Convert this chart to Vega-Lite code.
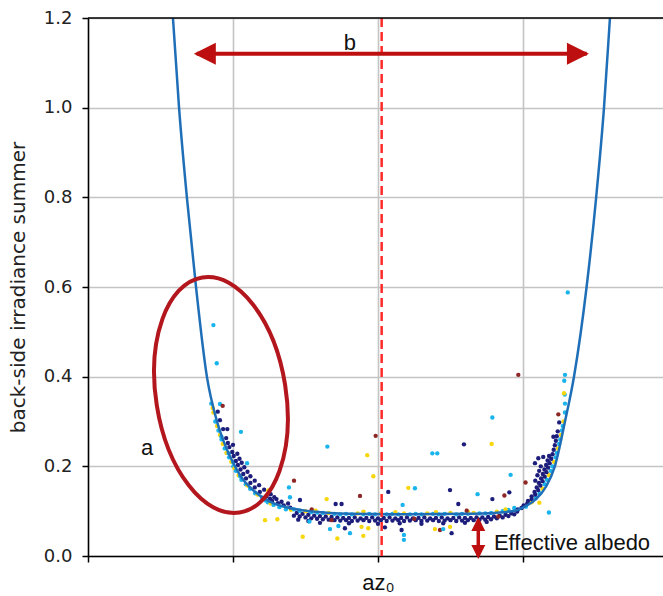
{
"$schema":"https://vega.github.io/schema/vega-lite/v6.json",
"width":575,"height":538,
"autosize":{"type":"none"},
"padding":{"left":88,"top":18,"right":0,"bottom":40},
"background":"white",
"config":{"view":{"stroke":null}},
"datasets":{
"curve":[{"x":-1.445,"y":1.36},{"x":-1.414,"y":1.2},{"x":-1.372,"y":1.0},{"x":-1.318,"y":0.8},{"x":-1.255,"y":0.6},{"x":-1.18,"y":0.4},{"x":-1.11,"y":0.3},{"x":-1.045,"y":0.24},{"x":-0.986,"y":0.2},{"x":-0.93,"y":0.17},{"x":-0.862,"y":0.147},{"x":-0.75,"y":0.122},{"x":-0.607,"y":0.107},{"x":-0.45,"y":0.099},{"x":-0.193,"y":0.094},{"x":0.2,"y":0.093},{"x":0.6,"y":0.094},{"x":0.8,"y":0.096},{"x":0.945,"y":0.101},{"x":1.0,"y":0.108},{"x":1.083,"y":0.125},{"x":1.16,"y":0.155},{"x":1.22,"y":0.2},{"x":1.29,"y":0.3},{"x":1.352,"y":0.4},{"x":1.439,"y":0.6},{"x":1.505,"y":0.8},{"x":1.559,"y":1.0},{"x":1.6,"y":1.2},{"x":1.63,"y":1.35}],
"pts":[
{"x":-1.15,"y":0.34,"c":"C"},{"x":-1.14,"y":0.33,"c":"Y"},{"x":-1.135,"y":0.32,"c":"Y"},{"x":-1.105,"y":0.322,"c":"N"},{"x":-1.122,"y":0.30,"c":"C"},{"x":-1.09,"y":0.303,"c":"N"},{"x":-1.11,"y":0.29,"c":"Y"},{"x":-1.1,"y":0.28,"c":"C"},{"x":-1.068,"y":0.283,"c":"N"},{"x":-1.09,"y":0.27,"c":"Y"},{"x":-1.08,"y":0.266,"c":"C"},{"x":-1.079,"y":0.26,"c":"C"},{"x":-1.047,"y":0.263,"c":"N"},{"x":-1.07,"y":0.25,"c":"Y"},{"x":-1.035,"y":0.252,"c":"N"},{"x":-1.057,"y":0.24,"c":"C"},{"x":-1.025,"y":0.243,"c":"N"},{"x":-1.0,"y":0.248,"c":"N"},{"x":-1.045,"y":0.23,"c":"Y"},{"x":-1.03,"y":0.229,"c":"C"},{"x":-1.005,"y":0.232,"c":"N"},{"x":-1.027,"y":0.22,"c":"C"},{"x":-0.995,"y":0.223,"c":"N"},{"x":-0.97,"y":0.228,"c":"N"},{"x":-1.012,"y":0.21,"c":"Y"},{"x":-0.998,"y":0.209,"c":"C"},{"x":-0.98,"y":0.212,"c":"N"},{"x":-0.955,"y":0.217,"c":"N"},{"x":-0.998,"y":0.20,"c":"C"},{"x":-0.99,"y":0.196,"c":"Y"},{"x":-0.966,"y":0.203,"c":"N"},{"x":-0.94,"y":0.208,"c":"N"},{"x":-0.98,"y":0.19,"c":"C"},{"x":-0.948,"y":0.193,"c":"N"},{"x":-0.922,"y":0.198,"c":"N"},{"x":-0.961,"y":0.18,"c":"Y"},{"x":-0.95,"y":0.178,"c":"C"},{"x":-0.929,"y":0.183,"c":"N"},{"x":-0.9,"y":0.188,"c":"N"},{"x":-0.942,"y":0.17,"c":"C"},{"x":-0.91,"y":0.173,"c":"N"},{"x":-0.88,"y":0.178,"c":"N"},{"x":-0.912,"y":0.16,"c":"C"},{"x":-0.9,"y":0.157,"c":"Y"},{"x":-0.88,"y":0.163,"c":"N"},{"x":-0.85,"y":0.168,"c":"N"},{"x":-0.882,"y":0.15,"c":"C"},{"x":-0.85,"y":0.153,"c":"N"},{"x":-0.82,"y":0.158,"c":"N"},{"x":-0.847,"y":0.14,"c":"C"},{"x":-0.83,"y":0.137,"c":"Y"},{"x":-0.815,"y":0.143,"c":"N"},{"x":-0.785,"y":0.148,"c":"N"},{"x":-0.8,"y":0.13,"c":"C"},{"x":-0.77,"y":0.133,"c":"N"},{"x":-0.74,"y":0.138,"c":"N"},{"x":-0.775,"y":0.124,"c":"C"},{"x":-0.745,"y":0.128,"c":"N"},{"x":-0.715,"y":0.131,"c":"N"},{"x":-0.76,"y":0.12,"c":"C"},{"x":-0.74,"y":0.117,"c":"Y"},{"x":-0.73,"y":0.123,"c":"N"},{"x":-0.7,"y":0.127,"c":"N"},{"x":-0.72,"y":0.114,"c":"C"},{"x":-0.69,"y":0.118,"c":"N"},{"x":-0.665,"y":0.121,"c":"N"},{"x":-0.68,"y":0.109,"c":"C"},{"x":-0.65,"y":0.113,"c":"N"},{"x":-0.62,"y":0.117,"c":"N"},{"x":-0.635,"y":0.104,"c":"C"},{"x":-0.6,"y":0.103,"c":"Y"},{"x":-0.605,"y":0.108,"c":"N"},
{"x":-0.58,"y":0.090,"c":"N"},{"x":-0.56,"y":0.096,"c":"N"},{"x":-0.58,"y":0.104,"c":"C"},
{"x":-0.54,"y":0.088,"c":"N"},{"x":-0.52,"y":0.094,"c":"N"},{"x":-0.54,"y":0.101,"c":"C"},
{"x":-0.50,"y":0.086,"c":"N"},{"x":-0.48,"y":0.092,"c":"N"},{"x":-0.50,"y":0.100,"c":"Y"},
{"x":-0.46,"y":0.084,"c":"N"},{"x":-0.44,"y":0.090,"c":"N"},{"x":-0.46,"y":0.098,"c":"C"},
{"x":-0.42,"y":0.083,"c":"N"},{"x":-0.40,"y":0.089,"c":"N"},{"x":-0.42,"y":0.097,"c":"C"},
{"x":-0.38,"y":0.082,"c":"N"},{"x":-0.36,"y":0.088,"c":"N"},{"x":-0.38,"y":0.096,"c":"C"},
{"x":-0.34,"y":0.081,"c":"N"},{"x":-0.32,"y":0.087,"c":"N"},{"x":-0.34,"y":0.096,"c":"Y"},
{"x":-0.30,"y":0.080,"c":"N"},{"x":-0.28,"y":0.086,"c":"N"},{"x":-0.30,"y":0.094,"c":"C"},
{"x":-0.26,"y":0.079,"c":"N"},{"x":-0.24,"y":0.085,"c":"N"},{"x":-0.26,"y":0.093,"c":"C"},
{"x":-0.22,"y":0.080,"c":"N"},{"x":-0.20,"y":0.085,"c":"N"},{"x":-0.22,"y":0.094,"c":"C"},
{"x":-0.18,"y":0.078,"c":"N"},{"x":-0.16,"y":0.086,"c":"N"},{"x":-0.18,"y":0.093,"c":"C"},
{"x":-0.14,"y":0.079,"c":"N"},{"x":-0.12,"y":0.084,"c":"N"},{"x":-0.14,"y":0.095,"c":"Y"},
{"x":-0.10,"y":0.080,"c":"N"},{"x":-0.08,"y":0.085,"c":"N"},{"x":-0.10,"y":0.093,"c":"C"},
{"x":-0.06,"y":0.078,"c":"N"},{"x":-0.04,"y":0.086,"c":"N"},{"x":-0.06,"y":0.094,"c":"C"},
{"x":-0.02,"y":0.079,"c":"N"},{"x":0.00,"y":0.084,"c":"N"},{"x":-0.02,"y":0.093,"c":"C"},
{"x":0.02,"y":0.080,"c":"N"},{"x":0.04,"y":0.085,"c":"N"},{"x":0.02,"y":0.095,"c":"Y"},
{"x":0.06,"y":0.078,"c":"N"},{"x":0.08,"y":0.086,"c":"N"},{"x":0.06,"y":0.093,"c":"C"},
{"x":0.10,"y":0.079,"c":"N"},{"x":0.12,"y":0.084,"c":"N"},{"x":0.10,"y":0.094,"c":"C"},
{"x":0.14,"y":0.080,"c":"N"},{"x":0.16,"y":0.085,"c":"N"},{"x":0.14,"y":0.093,"c":"C"},
{"x":0.18,"y":0.078,"c":"N"},{"x":0.20,"y":0.086,"c":"N"},{"x":0.18,"y":0.095,"c":"Y"},
{"x":0.22,"y":0.079,"c":"N"},{"x":0.24,"y":0.084,"c":"N"},{"x":0.22,"y":0.093,"c":"C"},
{"x":0.26,"y":0.080,"c":"N"},{"x":0.28,"y":0.085,"c":"N"},{"x":0.26,"y":0.094,"c":"C"},
{"x":0.30,"y":0.078,"c":"N"},{"x":0.32,"y":0.086,"c":"N"},{"x":0.30,"y":0.093,"c":"C"},
{"x":0.34,"y":0.079,"c":"N"},{"x":0.36,"y":0.084,"c":"N"},{"x":0.34,"y":0.095,"c":"Y"},
{"x":0.38,"y":0.080,"c":"N"},{"x":0.40,"y":0.085,"c":"N"},{"x":0.38,"y":0.094,"c":"C"},
{"x":0.42,"y":0.078,"c":"N"},{"x":0.44,"y":0.086,"c":"N"},{"x":0.42,"y":0.093,"c":"C"},
{"x":0.46,"y":0.079,"c":"N"},{"x":0.48,"y":0.084,"c":"N"},{"x":0.46,"y":0.094,"c":"C"},
{"x":0.50,"y":0.080,"c":"N"},{"x":0.52,"y":0.085,"c":"N"},{"x":0.50,"y":0.096,"c":"Y"},
{"x":0.54,"y":0.078,"c":"N"},{"x":0.56,"y":0.086,"c":"N"},{"x":0.54,"y":0.093,"c":"C"},
{"x":0.58,"y":0.079,"c":"N"},{"x":0.60,"y":0.085,"c":"N"},{"x":0.58,"y":0.094,"c":"C"},
{"x":0.62,"y":0.080,"c":"N"},{"x":0.64,"y":0.085,"c":"N"},{"x":0.62,"y":0.094,"c":"C"},
{"x":0.66,"y":0.080,"c":"N"},{"x":0.68,"y":0.086,"c":"N"},{"x":0.66,"y":0.096,"c":"Y"},
{"x":0.70,"y":0.081,"c":"N"},{"x":0.72,"y":0.086,"c":"N"},{"x":0.70,"y":0.095,"c":"C"},
{"x":0.74,"y":0.081,"c":"N"},{"x":0.76,"y":0.087,"c":"N"},{"x":0.74,"y":0.095,"c":"C"},
{"x":0.78,"y":0.082,"c":"N"},{"x":0.80,"y":0.088,"c":"N"},{"x":0.78,"y":0.096,"c":"C"},
{"x":0.82,"y":0.084,"c":"N"},{"x":0.84,"y":0.090,"c":"N"},{"x":0.82,"y":0.099,"c":"Y"},
{"x":0.86,"y":0.086,"c":"N"},{"x":0.88,"y":0.092,"c":"N"},{"x":0.86,"y":0.100,"c":"C"},
{"x":0.90,"y":0.089,"c":"N"},{"x":0.92,"y":0.095,"c":"N"},{"x":0.90,"y":0.103,"c":"C"},
{"x":0.94,"y":0.093,"c":"N"},{"x":0.96,"y":0.099,"c":"N"},{"x":0.94,"y":0.107,"c":"C"},
{"x":-0.4,"y":0.074,"c":"N"},{"x":-0.2,"y":0.073,"c":"N"},{"x":0.0,"y":0.072,"c":"N"},{"x":0.15,"y":0.073,"c":"N"},{"x":0.3,"y":0.072,"c":"N"},{"x":0.45,"y":0.073,"c":"N"},{"x":0.6,"y":0.074,"c":"N"},{"x":0.75,"y":0.076,"c":"N"},{"x":-0.55,"y":0.081,"c":"N"},{"x":-0.48,"y":0.078,"c":"N"},
{"x":-0.457,"y":0.104,"c":"R"},{"x":-0.32,"y":0.08,"c":"R"},{"x":0.25,"y":0.083,"c":"R"},{"x":0.83,"y":0.088,"c":"R"},
{"x":-0.43,"y":0.101,"c":"Y"},{"x":-0.1,"y":0.099,"c":"Y"},{"x":0.12,"y":0.098,"c":"Y"},{"x":0.4,"y":0.098,"c":"Y"},{"x":0.62,"y":0.099,"c":"Y"},{"x":0.88,"y":0.104,"c":"Y"},
{"x":1.02,"y":0.11,"c":"C"},{"x":0.99,"y":0.107,"c":"N"},{"x":0.965,"y":0.104,"c":"N"},
{"x":1.06,"y":0.12,"c":"Y"},{"x":1.03,"y":0.117,"c":"N"},{"x":1.005,"y":0.113,"c":"N"},
{"x":1.09,"y":0.13,"c":"C"},{"x":1.06,"y":0.127,"c":"N"},{"x":1.035,"y":0.123,"c":"N"},
{"x":1.115,"y":0.14,"c":"C"},{"x":1.085,"y":0.137,"c":"N"},{"x":1.06,"y":0.133,"c":"N"},
{"x":1.135,"y":0.15,"c":"Y"},{"x":1.105,"y":0.147,"c":"N"},{"x":1.08,"y":0.143,"c":"N"},
{"x":1.15,"y":0.16,"c":"C"},{"x":1.12,"y":0.157,"c":"N"},{"x":1.095,"y":0.153,"c":"N"},
{"x":1.165,"y":0.17,"c":"C"},{"x":1.135,"y":0.167,"c":"N"},{"x":1.11,"y":0.163,"c":"N"},{"x":1.085,"y":0.168,"c":"N"},
{"x":1.18,"y":0.18,"c":"Y"},{"x":1.15,"y":0.177,"c":"N"},{"x":1.125,"y":0.173,"c":"N"},{"x":1.1,"y":0.18,"c":"N"},
{"x":1.192,"y":0.19,"c":"C"},{"x":1.162,"y":0.187,"c":"N"},{"x":1.137,"y":0.183,"c":"N"},{"x":1.112,"y":0.19,"c":"N"},
{"x":1.203,"y":0.20,"c":"C"},{"x":1.173,"y":0.197,"c":"N"},{"x":1.148,"y":0.193,"c":"N"},{"x":1.123,"y":0.2,"c":"N"},
{"x":1.214,"y":0.21,"c":"Y"},{"x":1.184,"y":0.207,"c":"N"},{"x":1.16,"y":0.203,"c":"N"},{"x":1.083,"y":0.207,"c":"N"},
{"x":1.225,"y":0.22,"c":"C"},{"x":1.195,"y":0.217,"c":"N"},{"x":1.17,"y":0.213,"c":"N"},{"x":1.14,"y":0.221,"c":"N"},{"x":1.106,"y":0.218,"c":"N"},
{"x":1.234,"y":0.23,"c":"C"},{"x":1.204,"y":0.227,"c":"N"},{"x":1.18,"y":0.223,"c":"N"},
{"x":1.242,"y":0.24,"c":"Y"},{"x":1.212,"y":0.237,"c":"N"},
{"x":1.25,"y":0.25,"c":"C"},{"x":1.22,"y":0.247,"c":"N"},
{"x":1.257,"y":0.26,"c":"C"},{"x":1.227,"y":0.257,"c":"N"},{"x":1.21,"y":0.266,"c":"N"},
{"x":1.263,"y":0.27,"c":"Y"},{"x":1.233,"y":0.267,"c":"N"},
{"x":1.269,"y":0.28,"c":"C"},{"x":1.24,"y":0.278,"c":"N"},
{"x":1.275,"y":0.29,"c":"C"},{"x":1.28,"y":0.30,"c":"Y"},{"x":1.25,"y":0.298,"c":"N"},{"x":1.244,"y":0.316,"c":"R"},
{"x":1.29,"y":0.32,"c":"C"},{"x":1.29,"y":0.34,"c":"C"},{"x":1.288,"y":0.36,"c":"C"},{"x":1.283,"y":0.363,"c":"Y"},
{"x":-1.135,"y":0.515,"c":"C"},{"x":-1.112,"y":0.43,"c":"C"},{"x":-1.09,"y":0.339,"c":"C"},{"x":-1.071,"y":0.335,"c":"R"},{"x":-1.039,"y":0.283,"c":"N"},{"x":-0.945,"y":0.277,"c":"C"},{"x":-0.903,"y":0.207,"c":"C"},{"x":-0.349,"y":0.244,"c":"C"},{"x":-0.016,"y":0.268,"c":"R"},{"x":-0.074,"y":0.225,"c":"Y"},{"x":-0.579,"y":0.168,"c":"R"},{"x":-0.032,"y":0.178,"c":"Y"},{"x":-0.614,"y":0.153,"c":"C"},{"x":-0.756,"y":0.146,"c":"Y"},{"x":-0.607,"y":0.131,"c":"C"},{"x":-0.538,"y":0.125,"c":"N"},{"x":-0.354,"y":0.127,"c":"Y"},{"x":-0.124,"y":0.134,"c":"R"},{"x":-0.292,"y":0.116,"c":"N"},{"x":-0.251,"y":0.116,"c":"N"},{"x":0.209,"y":0.152,"c":"Y"},{"x":0.17,"y":0.114,"c":"C"},{"x":-0.779,"y":0.08,"c":"Y"},{"x":-0.694,"y":0.082,"c":"Y"},{"x":-0.473,"y":0.077,"c":"C"},{"x":-0.331,"y":0.06,"c":"C"},{"x":-0.273,"y":0.067,"c":"C"},{"x":-0.228,"y":0.062,"c":"N"},{"x":-0.193,"y":0.051,"c":"C"},{"x":-0.113,"y":0.065,"c":"Y"},{"x":-0.067,"y":0.062,"c":"Y"},{"x":-0.101,"y":0.045,"c":"Y"},{"x":-0.519,"y":0.043,"c":"Y"},{"x":-0.28,"y":0.039,"c":"Y"},{"x":0.048,"y":0.064,"c":"N"},{"x":0.163,"y":0.058,"c":"N"},{"x":0.179,"y":0.047,"c":"C"},{"x":0.179,"y":0.036,"c":"C"},{"x":0.071,"y":0.143,"c":"N"},{"x":0.255,"y":0.151,"c":"C"},
{"x":0.968,"y":0.404,"c":"R"},{"x":0.789,"y":0.309,"c":"C"},{"x":0.593,"y":0.249,"c":"N"},{"x":0.784,"y":0.25,"c":"Y"},{"x":0.375,"y":0.229,"c":"C"},{"x":0.409,"y":0.229,"c":"C"},{"x":0.915,"y":0.181,"c":"C"},{"x":1.018,"y":0.164,"c":"R"},{"x":0.497,"y":0.147,"c":"N"},{"x":0.687,"y":0.138,"c":"C"},{"x":0.872,"y":0.135,"c":"R"},{"x":0.906,"y":0.142,"c":"N"},{"x":0.554,"y":0.116,"c":"N"},{"x":0.789,"y":0.127,"c":"N"},{"x":1.179,"y":0.097,"c":"C"},{"x":1.113,"y":0.119,"c":"Y"},{"x":0.612,"y":0.101,"c":"R"},{"x":0.428,"y":0.058,"c":"R"},{"x":0.393,"y":0.06,"c":"Y"},{"x":0.45,"y":0.06,"c":"C"},{"x":0.497,"y":0.065,"c":"Y"},{"x":0.508,"y":0.051,"c":"N"},{"x":1.309,"y":0.588,"c":"C"},{"x":1.29,"y":0.404,"c":"C"},{"x":1.285,"y":0.391,"c":"C"}
]},
"layer":[
{"data":{"name":"pts"},
 "mark":{"type":"point","filled":true,"size":19,"opacity":1,"shape":"circle","strokeWidth":0},
 "encoding":{
  "x":{"field":"x","type":"quantitative","scale":{"domain":[-2,1.966],"nice":false,"zero":false},
   "axis":{"title":null,"values":[-2,-1,0,1],"grid":true,"gridColor":"#c4c4c4","gridWidth":1.6,"domainColor":"#000","domainWidth":1.5,"tickColor":"#000","tickWidth":1.5,"tickSize":6,"labelExpr":"datum.value == 0 ? 'az₀' : ''","labelFont":"Liberation Sans","labelFontSize":22,"labelColor":"#111","labelPadding":10,"labelDx":10}},
  "y":{"field":"y","type":"quantitative","scale":{"domain":[0,1.2],"nice":false,"zero":false},
   "axis":{"title":"back-side irradiance summer","values":[0,0.2,0.4,0.6,0.8,1.0,1.2],"format":".1f","grid":true,"gridColor":"#c4c4c4","gridWidth":1.6,"domainColor":"#000","domainWidth":1.5,"tickColor":"#000","tickWidth":1.5,"tickSize":6,"labelFont":"DejaVu Sans","labelFontSize":18,"labelColor":"#222","labelPadding":10,"titleFont":"DejaVu Sans","titleFontSize":20,"titleFontWeight":"normal","titleColor":"#222","titlePadding":15}},
  "color":{"field":"c","type":"nominal","scale":{"domain":["N","C","Y","R"],"range":["#1d1d7c","#1ab4ec","#f7d70c","#8e2626"]},"legend":null}
 }},
{"data":{"name":"curve"},
 "mark":{"type":"line","color":"#1f6fb8","strokeWidth":2.5,"interpolate":"monotone","clip":true},
 "encoding":{
  "x":{"field":"x","type":"quantitative","scale":{"domain":[-2,1.966],"nice":false,"zero":false}},
  "y":{"field":"y","type":"quantitative","scale":{"domain":[0,1.2],"nice":false,"zero":false}}}},
{"data":{"values":[{"x":0.0255}]},
 "mark":{"type":"rule","color":"#ff2a2a","strokeWidth":2.5,"strokeDash":[9,5]},
 "encoding":{"x":{"field":"x","type":"quantitative","scale":{"domain":[-2,1.966],"nice":false,"zero":false}}}},
{"data":{"values":[{"y":1.2}]},
 "mark":{"type":"rule","color":"#000","strokeWidth":1.5},
 "encoding":{"y":{"field":"y","type":"quantitative","scale":{"domain":[0,1.2],"nice":false,"zero":false}}}},
{"data":{"values":[{"x":-1.083,"y":0.359}]},
 "mark":{"type":"point","shape":"M0,-1A0.546,1,0,0,1,0,1A0.546,1,0,0,1,0,-1Z","size":56644,"filled":false,"stroke":"#b3171d","strokeWidth":4,"opacity":1,"angle":351},
 "encoding":{
  "x":{"field":"x","type":"quantitative","scale":{"domain":[-2,1.966],"nice":false,"zero":false}},
  "y":{"field":"y","type":"quantitative","scale":{"domain":[0,1.2],"nice":false,"zero":false}}}},
{"data":{"values":[{"x":-1.25,"x2":1.44,"y":1.12}]},
 "mark":{"type":"rule","color":"#bd0f0f","strokeWidth":4},
 "encoding":{
  "x":{"field":"x","type":"quantitative","scale":{"domain":[-2,1.966],"nice":false,"zero":false}},
  "x2":{"field":"x2"},
  "y":{"field":"y","type":"quantitative","scale":{"domain":[0,1.2],"nice":false,"zero":false}}}},
{"data":{"values":[{"x":0.692,"y":0.0,"y2":0.08}]},
 "mark":{"type":"rule","color":"#bd0f0f","strokeWidth":3.5},
 "encoding":{
  "x":{"field":"x","type":"quantitative","scale":{"domain":[-2,1.966],"nice":false,"zero":false}},
  "y":{"field":"y","type":"quantitative","scale":{"domain":[0,1.2],"nice":false,"zero":false}},
  "y2":{"field":"y2"}}},
{"data":{"values":[{"x":-1.27,"y":1.12,"k":"L"},{"x":1.455,"y":1.12,"k":"R"},{"x":0.692,"y":0.087,"k":"U"},{"x":0.692,"y":-0.0067,"k":"D"}]},
 "mark":{"type":"point","filled":true,"size":484,"opacity":1,"color":"#bd0f0f","strokeWidth":0},
 "encoding":{
  "x":{"field":"x","type":"quantitative","scale":{"domain":[-2,1.966],"nice":false,"zero":false}},
  "y":{"field":"y","type":"quantitative","scale":{"domain":[0,1.2],"nice":false,"zero":false}},
  "shape":{"field":"k","type":"nominal","scale":{"domain":["L","R","U","D"],"range":["M0,0L2,-1L2,1Z","M0,0L-2,-1L-2,1Z","M0,0L-0.636,1.273L0.636,1.273Z","M0,0L-0.636,-1.273L0.636,-1.273Z"]},"legend":null}}},
{"data":{"values":[{"x":-0.193,"y":1.1287,"t":"b"},{"x":-1.593,"y":0.2253,"t":"a"}]},
 "mark":{"type":"text","align":"center","baseline":"alphabetic","font":"Liberation Sans","fontSize":22,"color":"#111"},
 "encoding":{
  "x":{"field":"x","type":"quantitative","scale":{"domain":[-2,1.966],"nice":false,"zero":false}},
  "y":{"field":"y","type":"quantitative","scale":{"domain":[0,1.2],"nice":false,"zero":false}},
  "text":{"field":"t"}}},
{"data":{"values":[{"x":0.8,"y":0.0134,"t":"Effective albedo"}]},
 "mark":{"type":"text","align":"left","baseline":"alphabetic","font":"Liberation Sans","fontSize":22,"color":"#111"},
 "encoding":{
  "x":{"field":"x","type":"quantitative","scale":{"domain":[-2,1.966],"nice":false,"zero":false}},
  "y":{"field":"y","type":"quantitative","scale":{"domain":[0,1.2],"nice":false,"zero":false}},
  "text":{"field":"t"}}}
]
}
